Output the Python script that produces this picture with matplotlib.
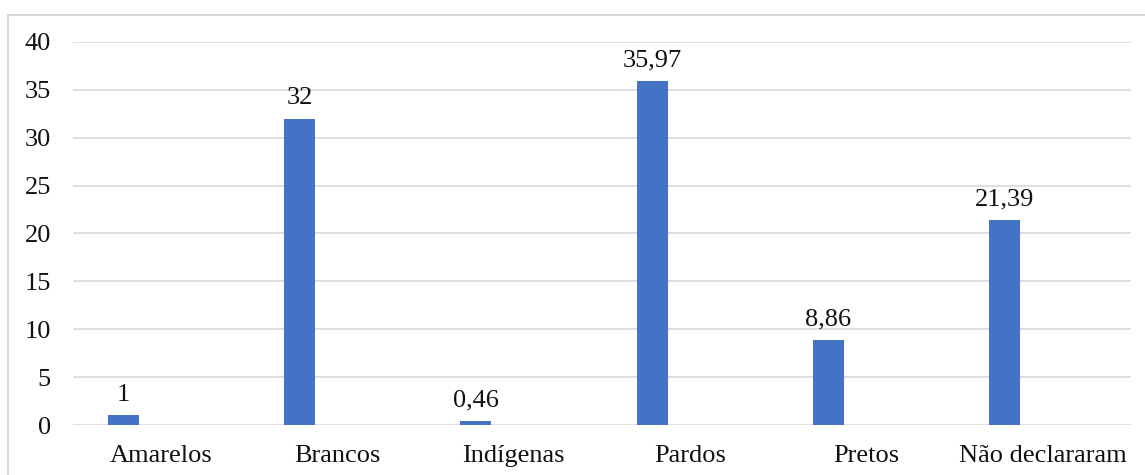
import matplotlib
matplotlib.use("Agg")
import matplotlib.pyplot as plt
from matplotlib.lines import Line2D

categories = ["Amarelos", "Brancos", "Indígenas", "Pardos", "Pretos", "Não declararam"]
values = [1, 32, 0.46, 35.97, 8.86, 21.39]
value_labels = ["1", "32", "0,46", "35,97", "8,86", "21,39"]
yticks = [0, 5, 10, 15, 20, 25, 30, 35, 40]

plt.rcParams['font.family'] = ['Liberation Serif', 'DejaVu Serif']

W, H = 1145, 475
fig = plt.figure(figsize=(W / 100, H / 100), dpi=100)
ax = fig.add_axes([73 / W, (H - 425) / H, (1131 - 73) / W, (425 - 42) / H])

x = list(range(len(categories)))
offset = -0.216
width = 0.176
bx = [i + offset for i in x]
ax.bar(bx, values, width=width, color="#4472C4", zorder=3)

for xi, v, lab in zip(bx, values, value_labels):
    ax.text(xi, v + 1.0, lab, ha="center", va="bottom", fontsize=19, color="#111111")

ax.set_xlim(-0.5, len(categories) - 0.5)
ax.set_ylim(0, 40)
ax.set_yticks(yticks)
ax.set_yticklabels([str(t) for t in yticks], fontsize=19, color="#111111")
ax.set_xticks(x)
ax.set_xticklabels(categories, fontsize=19, color="#111111")
ax.tick_params(axis="both", length=0)
ax.tick_params(axis="y", pad=16)
ax.tick_params(axis="x", pad=14.5)
ax.grid(axis="y", color="#d9d9d9", linewidth=1.2, zorder=0)
for s in ax.spines.values():
    s.set_visible(False)

# outer chart border (top and left visible)
fig.add_artist(Line2D([7.5 / W, 1.0], [1 - 14.5 / H, 1 - 14.5 / H], color="#d0d0d0", linewidth=1.2, transform=fig.transFigure))
fig.add_artist(Line2D([7.5 / W, 7.5 / W], [0, 1 - 14.5 / H], color="#d0d0d0", linewidth=1.2, transform=fig.transFigure))

fig.savefig("out.png", dpi=100)
